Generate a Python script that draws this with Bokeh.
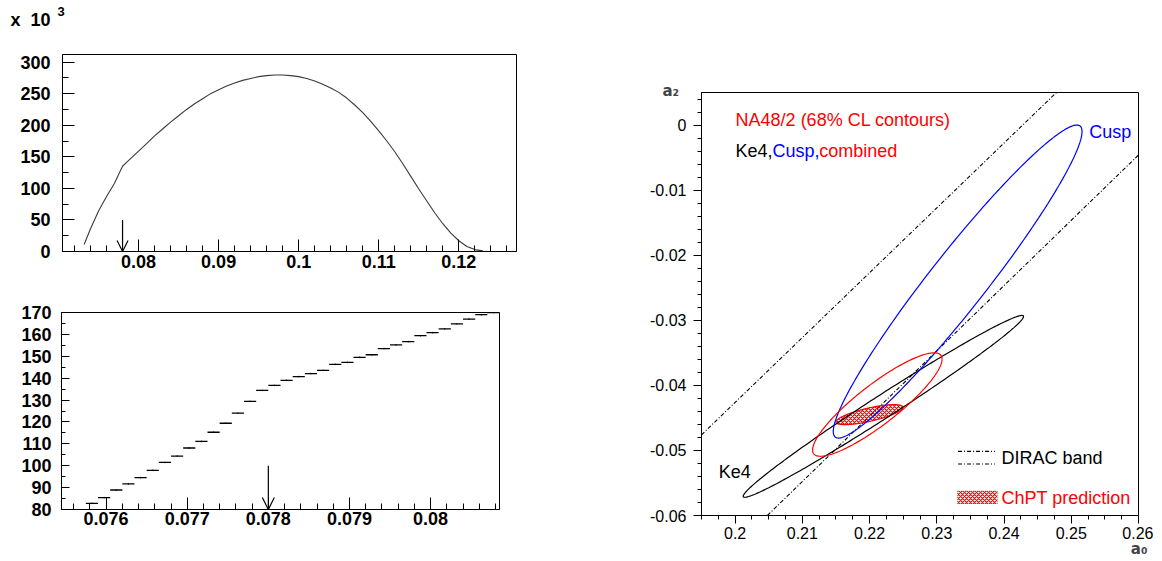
import numpy as np
from bokeh.plotting import figure
from bokeh.layouts import row, column
from bokeh.models import (Range1d, SingleIntervalTicker, NumeralTickFormatter,
                          Label, Arrow, OpenHead, Title)
from bokeh.embed import file_html
from bokeh.resources import INLINE

# ---------------- data ----------------
# top-left: distribution (units of 10^3)
top_x = [0.0732, 0.0740, 0.0750, 0.0760, 0.0770, 0.0775, 0.0780, 0.0785, 0.0790,
         0.0800, 0.0810, 0.0820, 0.0830, 0.0840, 0.0850, 0.0860, 0.0870, 0.0880,
         0.0890, 0.0900, 0.0910, 0.0920, 0.0930, 0.0940, 0.0950, 0.0960, 0.0970,
         0.0980, 0.0990, 0.1000, 0.1010, 0.1020, 0.1030, 0.1040, 0.1050, 0.1060,
         0.1070, 0.1080, 0.1090, 0.1100, 0.1110, 0.1120, 0.1130, 0.1140, 0.1150,
         0.1160, 0.1170, 0.1180, 0.1190, 0.1200, 0.1210, 0.1220, 0.1230]
top_y = [11, 36, 64, 87, 108, 122, 135, 141, 147,
         159, 171, 183, 194, 205, 215, 225, 234, 242,
         250, 256, 262, 267, 271, 274, 277, 278.5, 279.5,
         279.5, 278.5, 277, 274, 270, 265, 259, 252, 243,
         232, 220, 206, 191, 175, 158, 139, 119, 99,
         80, 61, 44, 29, 17, 8, 3, 1]

# bottom-left: zoomed histogram (units of 10^3)
zoom_first_edge = 0.07575
zoom_bin_width = 0.00015
zoom_y = [82.8, 85.4, 88.9, 91.7, 94.6, 97.9, 101.5, 104.4, 108.1, 111.1, 115.3,
          119.4, 124.0, 129.4, 134.4, 136.7, 139.0, 140.7, 142.1, 143.6, 146.3,
          147.2, 149.5, 150.7, 153.5, 155.2, 156.7, 159.4, 160.8, 162.5, 164.8,
          167.0, 169.0, 170.0]
cut_x = 0.078

# right: 68% CL contours (center x, center y, half-extent x, half-extent y, correlation phase)
ke4_c = [0.22205, -0.04323, 0.02085, 0.01397, 0.15]
cusp_c = [0.2331, -0.02405, 0.0185, 0.02405, 0.29]
comb_c = [0.22115, -0.04295, 0.00963, 0.00795, 0.50]
chpt_c = [0.21998, -0.0445, 0.00498, 0.00154, 0.75]
dirac_up_x = [0.195, 0.2478]
dirac_up_y = [-0.0476, 0.005]
dirac_lo_x = [0.2048, 0.2600]
dirac_lo_y = [-0.0600, -0.0046]


def ellipse(c, n=300):
    cx, cy, ax, ay, phi = c
    t = np.linspace(0, 2 * np.pi, n)
    return cx + ax * np.cos(t), cy + ay * np.cos(t + phi)


FONT = "Liberation Sans"


def style_axes(p, bold, size, tick_in, tick_out, minor_in, minor_out, standoff_x, standoff_y):
    p.xgrid.visible = False
    p.ygrid.visible = False
    p.outline_line_color = "black"
    p.outline_line_width = 1
    p.background_fill_color = "white"
    p.border_fill_color = "white"
    for ax in (p.xaxis[0], p.yaxis[0]):
        ax.axis_line_color = "black"
        ax.major_tick_line_color = "black"
        ax.minor_tick_line_color = "black"
        ax.major_label_text_font = FONT
        ax.major_label_text_font_size = size
        ax.major_label_text_font_style = "bold" if bold else "normal"
        ax.major_label_text_color = "black"
    p.xaxis[0].major_tick_in = tick_in[0]
    p.xaxis[0].major_tick_out = tick_out[0]
    p.xaxis[0].minor_tick_in = minor_in[0]
    p.xaxis[0].minor_tick_out = minor_out[0]
    p.yaxis[0].major_tick_in = tick_in[1]
    p.yaxis[0].major_tick_out = tick_out[1]
    p.yaxis[0].minor_tick_in = minor_in[1]
    p.yaxis[0].minor_tick_out = minor_out[1]
    p.xaxis[0].major_label_standoff = standoff_x
    p.yaxis[0].major_label_standoff = standoff_y


def txt(p, x, y, s, color="black", size="18px", style="normal", align="left"):
    p.add_layout(Label(x=x, y=y, text=s, text_color=color, text_font=FONT,
                       text_font_size=size, text_font_style=style,
                       text_baseline="middle", text_align=align))


# ---------------- header strip holding the "x 10^3" exponent ----------------
p0 = figure(width=628, height=36, x_range=Range1d(0, 628), y_range=Range1d(36, 0),
            output_backend="svg", toolbar_location=None,
            x_axis_location=None, y_axis_location=None,
            min_border_left=0, min_border_right=0, min_border_top=0, min_border_bottom=0)
p0.outline_line_color = None
p0.xgrid.visible = False
p0.ygrid.visible = False
txt(p0, 10, 19, "x\u00a0\u00a010", "black", "18px", "bold")
txt(p0, 57, 11, "3", "black", "13px", "bold")

# ---------------- top-left ----------------
p1 = figure(width=628, height=254, x_range=Range1d(0.0705, 0.1272), y_range=Range1d(0, 312),
            output_backend="svg", toolbar_location=None,
            min_border_left=62, min_border_right=112, min_border_top=18, min_border_bottom=39)
p1.xaxis.ticker = SingleIntervalTicker(interval=0.01, num_minor_ticks=5)
p1.yaxis.ticker = SingleIntervalTicker(interval=50, num_minor_ticks=2)
p1.xaxis.formatter = NumeralTickFormatter(format="0.[00]")
style_axes(p1, True, "18px", (12, 12), (0, 0), (6, 6), (0, 0), 3, 12)
p1.line(top_x, top_y, line_color="#3a3a3a", line_width=1.1)
p1.add_layout(Arrow(end=OpenHead(size=11, line_color="black", line_width=1.2),
                    x_start=cut_x, y_start=50, x_end=cut_x, y_end=0,
                    line_color="black", line_width=1.2))

# ---------------- bottom-left ----------------
p2 = figure(width=628, height=263, x_range=Range1d(0.07545, 0.08085), y_range=Range1d(80, 170),
            output_backend="svg", toolbar_location=None,
            min_border_left=61, min_border_right=129, min_border_top=22, min_border_bottom=44)
p2.xaxis.ticker = SingleIntervalTicker(interval=0.001, num_minor_ticks=5)
p2.yaxis.ticker = SingleIntervalTicker(interval=10, num_minor_ticks=2)
p2.xaxis.formatter = NumeralTickFormatter(format="0.[000]")
style_axes(p2, True, "18px", (12, 8), (0, 0), (6, 4), (0, 0), 2, 10)
edges = zoom_first_edge + zoom_bin_width * np.arange(len(zoom_y) + 1)
centers = 0.5 * (edges[:-1] + edges[1:])
zy = np.array(zoom_y)
p2.segment(x0=edges[:-1], y0=zy, x1=edges[1:], y1=zy, line_color="black", line_width=1.3)
p2.segment(x0=centers, y0=zy - 0.35, x1=centers, y1=zy + 0.35, line_color="black", line_width=1)
p2.add_layout(Arrow(end=OpenHead(size=12, line_color="black", line_width=1.2),
                    x_start=cut_x, y_start=100, x_end=cut_x, y_end=80,
                    line_color="black", line_width=1.2))

# ---------------- right ----------------
p3 = figure(width=525, height=558, x_range=Range1d(0.195, 0.26), y_range=Range1d(-0.06, 0.005),
            output_backend="svg", toolbar_location=None,
            min_border_left=73, min_border_right=15, min_border_top=92, min_border_bottom=43)
p3.xaxis.ticker = SingleIntervalTicker(interval=0.01, num_minor_ticks=4)
p3.yaxis.ticker = SingleIntervalTicker(interval=0.01, num_minor_ticks=5)
p3.xaxis.formatter = NumeralTickFormatter(format="0.[00]")
p3.yaxis.formatter = NumeralTickFormatter(format="0.[00]")
style_axes(p3, False, "16px", (0, 0), (8, 8), (0, 0), (4, 4), 3, 7)

dash = "4 2 1 2"
p3.line(dirac_up_x, dirac_up_y, line_color="black", line_width=1.1, line_dash=dash)
p3.line(dirac_lo_x, dirac_lo_y, line_color="black", line_width=1.1, line_dash=dash)

ex, ey = ellipse(chpt_c)
p3.patch(ex, ey, fill_color=None, line_color="red", line_width=1.2,
         hatch_pattern="x", hatch_color="red", hatch_scale=4, hatch_weight=1.2)
for c, col in ((ke4_c, "black"), (cusp_c, "blue"), (comb_c, "red")):
    ex, ey = ellipse(c)
    p3.line(ex, ey, line_color=col, line_width=1.2)

txt(p3, 0.20007, 0.00085, "NA48/2 (68% CL contours)", "red")
txt(p3, 0.20007, -0.00398, "Ke4,", "black")
txt(p3, 0.20555, -0.00398, "Cusp,", "blue")
txt(p3, 0.21251, -0.00398, "combined", "red")
txt(p3, 0.25266, -0.00106, "Cusp", "blue")
txt(p3, 0.19758, -0.05337, "Ke4", "black")

# legend (manual)
p3.line([0.23316, 0.23863], [-0.05014, -0.05014], line_color="black", line_width=1.1, line_dash=dash)
p3.line([0.23316, 0.23863], [-0.05208, -0.05208], line_color="black", line_width=1.1, line_dash=dash)
txt(p3, 0.23963, -0.0511, "DIRAC band", "black")
p3.quad(left=0.23306, right=0.23903, bottom=-0.05823, top=-0.0562, fill_color=None,
        line_color=None, hatch_pattern="x", hatch_color="red", hatch_scale=4, hatch_weight=1.2)
txt(p3, 0.23963, -0.05726, "ChPT prediction", "red")

# axis titles
p3.add_layout(Title(text="a\u2082", align="left", offset=-39, standoff=-14,
                    text_font="DejaVu Sans", text_font_style="bold", text_font_size="15px"), "above")
p3.add_layout(Title(text="a\u2080", align="right", offset=-9, standoff=-7,
                    text_font="DejaVu Sans", text_font_style="bold", text_font_size="15px"), "below")

layout = row(column(row(p0), row(p1), row(p2)), p3)
open("out.html", "w").write(file_html(layout, INLINE))
